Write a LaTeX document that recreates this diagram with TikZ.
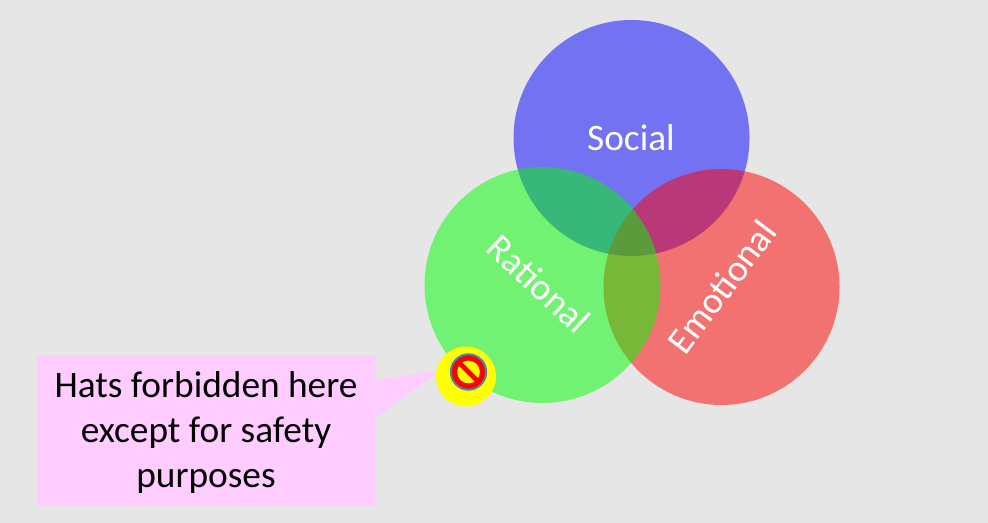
\documentclass[tikz,border=0pt]{standalone}
\usepackage{fontspec}
\setmainfont{Carlito}
\definecolor{pagegray}{RGB}{230,230,230}
\definecolor{notepink}{RGB}{255,204,255}
\definecolor{signrim}{RGB}{79,129,170}
\definecolor{puregreen}{RGB}{0,255,0}
\definecolor{pureblue}{RGB}{0,0,255}
\definecolor{purered}{RGB}{255,0,0}
\definecolor{pureyellow}{RGB}{255,255,0}
\tikzset{
  venn/.style={circle,inner sep=0pt,minimum size=177pt,fill opacity=0.5},
  vennlabel/.style={text=white,font=\fontsize{28}{34}\selectfont,inner sep=0pt},
}
\begin{document}
\begin{tikzpicture}[x=0.75pt,y=0.75pt,yscale=-1,xscale=1]
\useasboundingbox (0,0) rectangle (988,523);
\fill [pagegray] (0,0) rectangle (988,523);

% circles
\node (social) [venn,fill=pureblue] at (631.5,138) {};
\node (emotional) [venn,fill=purered] at (721.5,287) {};
\node (rational) [venn,fill=puregreen] at (542.5,285) {};

\node (sociallabel) [vennlabel] at (631,138) {Social};
\node (rationallabel) [vennlabel,rotate=-43] at (539,284) {Rational};
\node (emotionallabel) [vennlabel,rotate=53] at (722,287) {Emotional};

% callout
\node (hatsnote) [fill=notepink,minimum width=254.25pt,minimum height=112.5pt,inner sep=0pt] at (206.5,430) {};
\node (hatstext) [align=center,inner sep=0pt,font=\fontsize{28}{33.75}\selectfont] at (206,433) {Hats forbidden here\\except for safety\\purposes};
\coordinate (notetip) at (441,370);
\fill [notepink] ([yshift=-37.5pt]hatsnote.east) -- (notetip) -- ([yshift=-9.75pt]hatsnote.east) -- cycle;

% no hats sign
\node (hatspot) [circle,fill=pureyellow,inner sep=0pt,minimum size=45pt] at (466,376.5) {};
\node (nosign) [circle,draw=signrim,line width=1.5pt,fill=purered,inner sep=0pt,minimum size=26.5pt] at (468.5,372) {};
\node (nohole) [circle,fill=pureyellow,inner sep=0pt,minimum size=17pt] at (468.5,372) {};
\draw [purered,line width=3.5pt] (nohole.135) -- (nohole.315);
\end{tikzpicture}
\end{document}
